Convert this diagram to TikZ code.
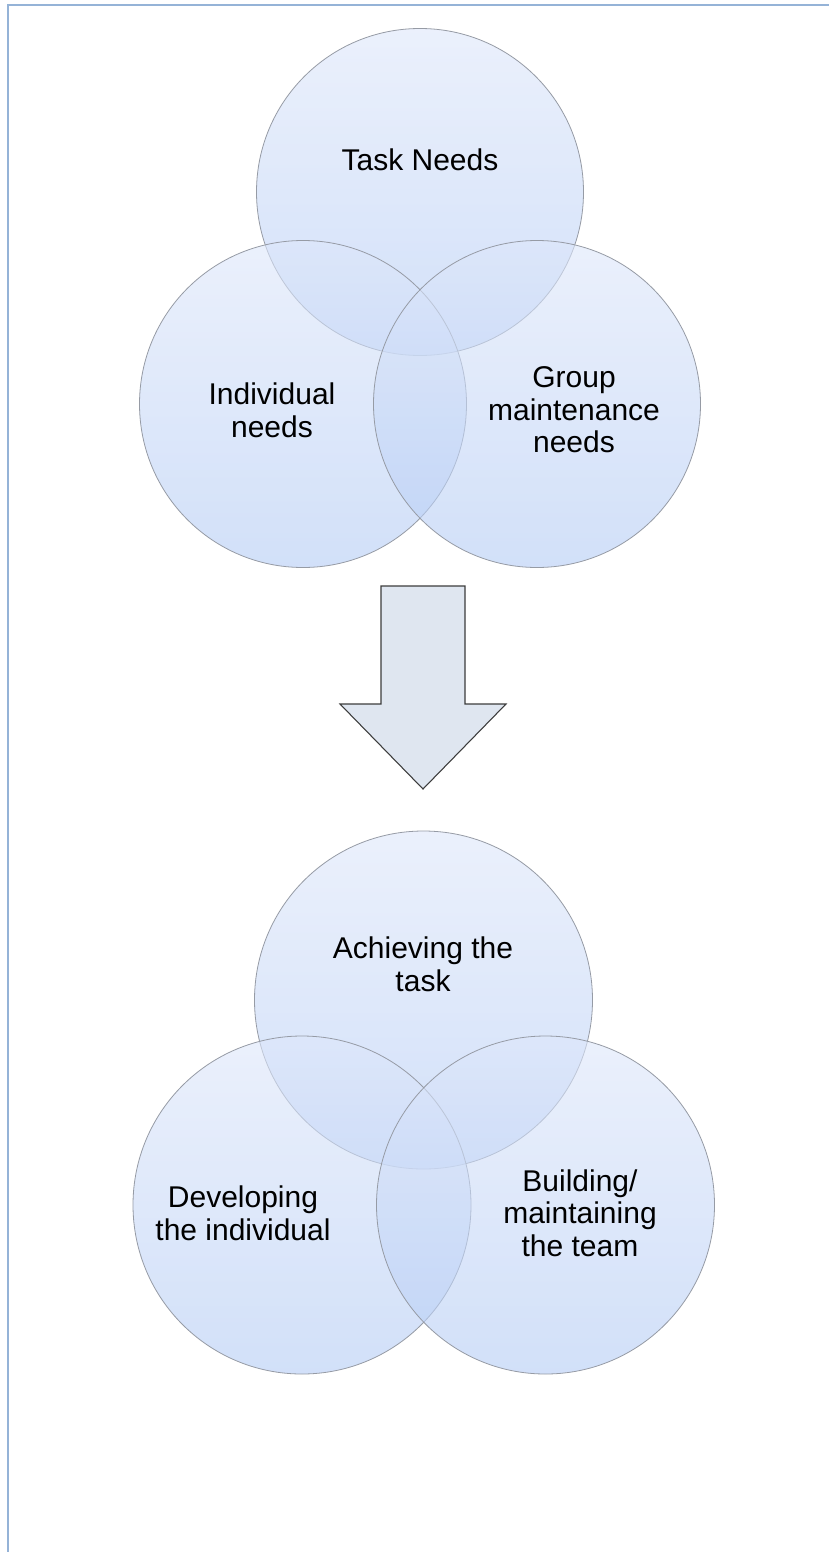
\documentclass[tikz,border=0pt]{standalone}
\usepackage{fontspec}
\setmainfont{Liberation Sans}
\begin{document}
\begin{tikzpicture}[x=0.75pt,y=-0.75pt,
  venn/.style={circle, draw={rgb,255:red,150;green,155;blue,165}, line width=0.6pt,
    minimum size=#1, inner sep=0pt,
    top color={rgb,255:red,222;green,231;blue,250},
    bottom color={rgb,255:red,180;green,204;blue,245},
    fill opacity=0.6, draw opacity=1},
  lbl/.style={align=center, font=\fontsize{22.5}{24.5}\selectfont, text=black, inner sep=0pt},
  frame/.style={draw={rgb,255:red,149;green,179;blue,215}, line width=1.5pt},
  bigarrow/.style={draw={rgb,255:red,60;green,60;blue,60}, line width=0.8pt,
    fill={rgb,255:red,223;green,230;blue,240}, line join=miter}]
\useasboundingbox (0,0) rectangle (829,1552);
\fill[white] (0,0) rectangle (829,1552);
% frame (top and left edges)
\draw[frame] (8,1552) -- (8,5) -- (829,5);

% upper group
\node[venn=245.25pt] (task) at (420,192) {};
\node[venn=245.25pt] (indiv) at (303,404) {};
\node[venn=245.25pt] (group) at (537,404) {};
\node[lbl] (taskL) at (420,160) {Task Needs};
\node[lbl] (indivL) at (272,410) {Individual\\needs};
\node[lbl] (groupL) at (574,410) {Group\\maintenance\\needs};

% arrow
\coordinate (a1) at (381,586);
\coordinate (a2) at (465,586);
\coordinate (a3) at (465,704);
\coordinate (a4) at (506,704);
\coordinate (tip) at (423,789);
\coordinate (a6) at (340,704);
\coordinate (a7) at (381,704);
\draw[bigarrow] (a1) -- (a2) -- (a3) -- (a4) -- (tip) -- (a6) -- (a7) -- cycle;

% lower group
\node[venn=253.5pt] (achieve) at (423.5,1000) {};
\node[venn=253.5pt] (develop) at (302,1205) {};
\node[venn=253.5pt] (build) at (545.5,1205) {};
\node[lbl] (achieveL) at (423,964) {Achieving the\\task};
\node[lbl] (developL) at (243,1213) {Developing\\the individual};
\node[lbl] (buildL) at (580,1213) {Building/\\maintaining\\the team};
\end{tikzpicture}
\end{document}
